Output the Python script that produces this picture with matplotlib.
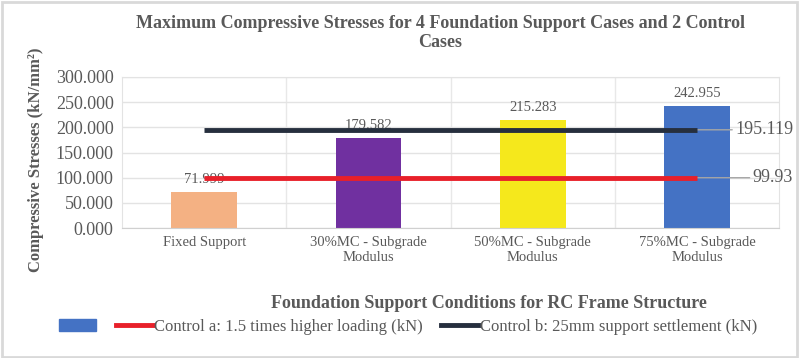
import matplotlib.pyplot as plt
from matplotlib.patches import Patch
from matplotlib.lines import Line2D

plt.rcParams['font.family'] = ['Liberation Serif', 'DejaVu Serif']

categories = ['Fixed Support', '30%MC - Subgrade\nModulus', '50%MC - Subgrade\nModulus', '75%MC - Subgrade\nModulus']
stresses = [71.999, 179.582, 215.283, 242.955]
bar_colors = ['#F4B183', '#7030A0', '#F5E81C', '#4472C4']
control_a = [99.93, 99.93, 99.93, 99.93]
control_b = [195.119, 195.119, 195.119, 195.119]
yticks = [0, 50, 100, 150, 200, 250, 300]

grey = '#595959'
red = '#E8202A'
navy = '#262F3E'

fig = plt.figure(figsize=(8, 3.58), dpi=100)
fig.patch.set_facecolor('white')
ax = fig.add_axes([0.1525, 0.363, 0.8215, 0.422])

x = list(range(len(categories)))
ax.bar(x, stresses, width=0.4, color=bar_colors, zorder=2)
for xi, v in zip(x, stresses):
    ax.annotate(f'{v:.3f}', xy=(xi, v), xytext=(0, 4), textcoords='offset points',
                ha='center', va='bottom', fontsize=10.5, color=grey, zorder=2)

ax.plot(x, control_a, color=red, lw=3.5, zorder=3, solid_capstyle='butt')
ax.plot(x, control_b, color=navy, lw=3.5, zorder=3, solid_capstyle='butt')

# end labels with short grey leader lines
for val, txt in [(control_b[-1], f'{control_b[-1]:.3f}'), (control_a[-1], f'{control_a[-1]:.2f}')]:
    ax.text(3.585, val, txt, ha='right', va='center', fontsize=13, color=grey, zorder=4, clip_on=False)
    ax.annotate('', xy=(x[-1], val), xytext=(3.585 - len(txt) * 0.053, val),
                arrowprops=dict(arrowstyle='-', color='#A6A6A6', lw=1, shrinkA=0, shrinkB=0),
                annotation_clip=False, zorder=2.5)

ax.set_xlim(-0.5, 3.5)
ax.set_ylim(0, 300)
ax.set_yticks(yticks)
ax.set_yticklabels([f'{t:.3f}' for t in yticks], fontsize=13, color=grey)
ax.set_xticks(x)
ax.set_xticklabels(categories, fontsize=10.5, color=grey, linespacing=1.15)
ax.tick_params(axis='both', length=0, pad=6)

ax.yaxis.grid(True, color='#E3E3E3', lw=1, zorder=0)
for b in [0.5, 1.5, 2.5]:
    ax.axvline(b, color='#E8E8E8', lw=1, zorder=0)
for side in ['top', 'right', 'left']:
    ax.spines[side].set_color('#E3E3E3')
ax.spines['bottom'].set_color('#D0D0D0')

ax.set_ylabel('Compressive Stresses (kN/mm²)', fontsize=12, fontweight='bold', color=grey)
ax.yaxis.set_label_coords(-0.118, 0.45)
ax.set_xlabel('Foundation Support Conditions for RC Frame Structure', fontsize=13, fontweight='bold', color=grey)
ax.xaxis.set_label_coords(0.559, -0.44)

fig.text(0.55, 0.908, 'Maximum Compressive Stresses for 4 Foundation Support Cases and 2 Control\nCases',
         ha='center', va='center', fontsize=13, fontweight='bold', color=grey, linespacing=1.2)

handles = [Patch(color='#4472C4'),
           Line2D([], [], color=red, lw=3.5),
           Line2D([], [], color=navy, lw=3.5)]
labels = ['', 'Control a: 1.5 times higher loading (kN)', 'Control b: 25mm support settlement (kN)']
fig.legend(handles, labels, loc='center', bbox_to_anchor=(0.51, 0.087), ncol=3, frameon=False,
           fontsize=12, labelcolor=grey, handlelength=2.2, handletextpad=0.1, columnspacing=1.1)

fig.patches.append(plt.Rectangle((0.002, 0.004), 0.994, 0.99, transform=fig.transFigure,
                                 fill=False, edgecolor='#D9D9D9', lw=2))

fig.savefig('out.png', dpi=100)
